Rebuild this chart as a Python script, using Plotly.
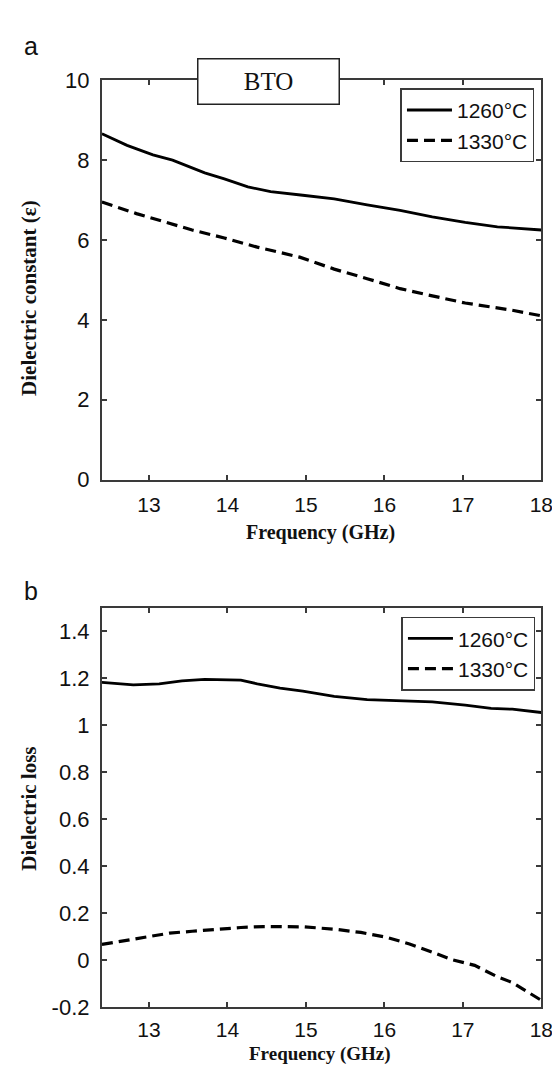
import plotly.graph_objects as go

# ---------------- data ----------------
freq_a_1260 = [12.40, 12.72, 13.05, 13.30, 13.71, 13.96, 14.26, 14.55, 14.96, 15.36, 15.78, 16.20, 16.61, 17.03, 17.44, 18.00]
eps_1260 = [8.66, 8.37, 8.13, 8.00, 7.68, 7.53, 7.33, 7.21, 7.12, 7.03, 6.88, 6.74, 6.58, 6.44, 6.33, 6.25]

freq_a_1330 = [12.40, 12.84, 13.17, 13.55, 13.96, 14.38, 14.92, 15.36, 15.78, 16.20, 16.61, 17.03, 17.60, 18.00]
eps_1330 = [6.95, 6.66, 6.47, 6.25, 6.05, 5.82, 5.57, 5.27, 5.03, 4.78, 4.60, 4.42, 4.25, 4.10]

freq_b_1260 = [12.40, 12.80, 13.13, 13.42, 13.71, 14.17, 14.38, 14.67, 14.96, 15.36, 15.78, 16.20, 16.61, 17.03, 17.36, 17.63, 18.00]
loss_1260 = [1.183, 1.173, 1.177, 1.190, 1.196, 1.193, 1.177, 1.159, 1.146, 1.124, 1.110, 1.104, 1.100, 1.086, 1.073, 1.069, 1.055]

freq_b_1330 = [12.40, 12.72, 12.97, 13.26, 13.55, 13.88, 14.17, 14.46, 14.96, 15.36, 15.70, 16.03, 16.32, 16.61, 16.86, 17.15, 17.44, 17.63, 18.00]
loss_1330 = [0.068, 0.087, 0.102, 0.116, 0.124, 0.133, 0.140, 0.144, 0.143, 0.133, 0.119, 0.098, 0.070, 0.035, 0.003, -0.021, -0.070, -0.094, -0.170]

series_names = ["1260°C", "1330°C"]
x_ticks = [13, 14, 15, 16, 17, 18]
ya_ticks = [0, 2, 4, 6, 8, 10]
yb_ticks = [-0.2, 0, 0.2, 0.4, 0.6, 0.8, 1.0, 1.2, 1.4]
yb_ticktext = ["-0.2", "0", "0.2", "0.4", "0.6", "0.8", "1", "1.2", "1.4"]

W, H = 560, 1071
def px(x):
    return x / W
def py(y):
    return 1 - y / H

SANS = "Liberation Sans, Arial, sans-serif"
SERIF = "Liberation Serif, Times New Roman, serif"
AX = "#3a3a3a"

solid = dict(color="black", width=2.8)
dashed = dict(color="black", width=3.2, dash="11px,6px")

fig = go.Figure()
fig.add_trace(go.Scatter(x=freq_a_1260, y=eps_1260, mode="lines", line=solid,
                         name=series_names[0], xaxis="x", yaxis="y", legend="legend"))
fig.add_trace(go.Scatter(x=freq_a_1330, y=eps_1330, mode="lines", line=dashed,
                         name=series_names[1], xaxis="x", yaxis="y", legend="legend"))
fig.add_trace(go.Scatter(x=freq_b_1260, y=loss_1260, mode="lines", line=solid,
                         name=series_names[0], xaxis="x2", yaxis="y2", legend="legend2"))
fig.add_trace(go.Scatter(x=freq_b_1330, y=loss_1330, mode="lines", line=dashed,
                         name=series_names[1], xaxis="x2", yaxis="y2", legend="legend2"))

axis_common = dict(showline=True, mirror="ticks", linecolor=AX, linewidth=2,
                   ticks="inside", ticklen=5, tickwidth=1.5, tickcolor=AX,
                   showgrid=False, zeroline=False)
yfont = dict(family=SANS, size=22, color="#111")
xfont = dict(family=SANS, size=21, color="#111")

xdom = [px(96), px(545)]
legend_common = dict(xanchor="right", yanchor="top", bgcolor="white", bordercolor=AX, borderwidth=1.5,
                     font=dict(family=SANS, size=21, color="#111"), tracegroupgap=0, itemwidth=45)
fig.update_layout(
    width=W, height=H,
    margin=dict(l=0, r=0, t=0, b=0),
    paper_bgcolor="white", plot_bgcolor="white",
    xaxis=dict(domain=xdom, range=[12.4, 18], tickvals=x_ticks, anchor="y", ticklabelstandoff=5,
               tickfont=xfont, **axis_common),
    yaxis=dict(domain=[py(470.5), py(61.7)], range=[0, 10], tickvals=ya_ticks, anchor="x", ticklabelstandoff=6,
               tickfont=yfont, **axis_common),
    xaxis2=dict(domain=xdom, range=[12.4, 18], tickvals=x_ticks, anchor="y2", ticklabelstandoff=2,
                tickfont=xfont, **axis_common),
    yaxis2=dict(domain=[py(1011), py(602)], range=[-0.2, 1.5], tickvals=yb_ticks, ticktext=yb_ticktext,
                anchor="x2", ticklabelstandoff=6, tickfont=yfont, **axis_common),
    legend=dict(x=px(538), y=py(70), **legend_common),
    legend2=dict(x=px(539), y=py(611), **legend_common),
    showlegend=True,
)

ann = []
ann.append(dict(text="a", x=px(14), y=py(27), xref="paper", yref="paper", xanchor="left", yanchor="middle",
                showarrow=False, font=dict(family=SANS, size=25, color="#111")))
ann.append(dict(text="b", x=px(14), y=py(585), xref="paper", yref="paper", xanchor="left", yanchor="middle",
                showarrow=False, font=dict(family=SANS, size=25, color="#111")))
ann.append(dict(text="BTO", x=px(266), y=py(62.5), xref="paper", yref="paper", xanchor="center", yanchor="middle",
                showarrow=False, font=dict(family=SERIF, size=25, color="#111"),
                bgcolor="white", bordercolor="#222", borderwidth=1.5, width=138, height=42))
ann.append(dict(text="<b>Frequency (GHz)</b>", x=px(319), y=py(525), xref="paper", yref="paper",
                xanchor="center", yanchor="middle", showarrow=False,
                font=dict(family=SERIF, size=20, color="#111")))
ann.append(dict(text="<b>Frequency (GHz)</b>", x=px(319), y=0, xref="paper", yref="paper",
                xanchor="center", yanchor="bottom", showarrow=False, borderpad=0,
                font=dict(family=SERIF, size=19, color="#111")))
ann.append(dict(text="<b>Dielectric constant (ε)</b>", x=px(22), y=py(285), xref="paper", yref="paper",
                xanchor="center", yanchor="middle", showarrow=False, textangle=-90,
                font=dict(family=SERIF, size=21, color="#111")))
ann.append(dict(text="<b>Dielectric loss</b>", x=px(22), y=py(808), xref="paper", yref="paper",
                xanchor="center", yanchor="middle", showarrow=False, textangle=-90,
                font=dict(family=SERIF, size=21, color="#111")))
fig.update_layout(annotations=ann)

fig.write_html("out.html")
